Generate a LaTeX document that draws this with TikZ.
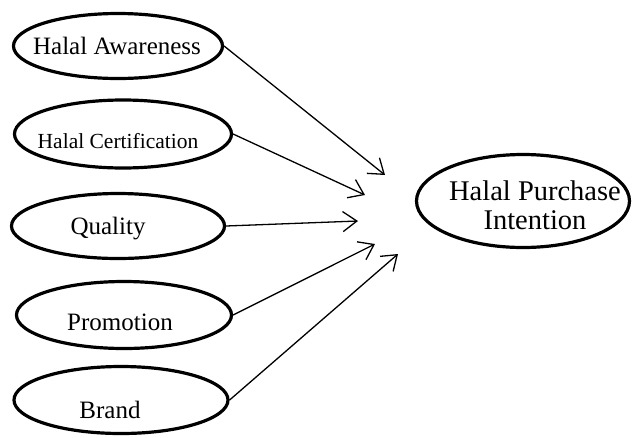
\documentclass[tikz,border=0pt]{standalone}
\usepackage{fontspec}
\setmainfont{Liberation Serif}
\usetikzlibrary{arrows.meta,shapes.geometric}

\begin{document}
\begin{tikzpicture}[x=1pt, y=-1pt,
		    factor/.style 2 args={draw, ellipse, line width=3.2pt, inner sep=0pt,
		        minimum width=#1, minimum height=#2},
		    txt/.style={font=\fontsize{25}{29}\selectfont, inner sep=0pt},
		    link/.style={line width=1.3pt, -{Straight Barb[length=14pt, width=20pt, line width=1.3pt]}}
		]
		\useasboundingbox (0,0) rectangle (637,437);
		\node[factor={209}{65}, label={[txt, xshift=-1pt]center:Halal Awareness}] (Awareness) at (118,46) {};
		\node[factor={217}{68}, label={[txt, font=\fontsize{21.5}{26}\selectfont, xshift=-5pt, yshift=-7pt]center:Halal Certification}] (Certification) at (123,134) {};
		\node[factor={213}{65}, label={[txt, xshift=-10pt, yshift=-3pt]center:Quality}] (Quality) at (118,226) {};
		\node[factor={215}{67}, label={[txt, xshift=-4pt, yshift=-7pt]center:Promotion}] (Promotion) at (124,315) {};
		\node[factor={214}{67}, label={[txt, xshift=-11pt, yshift=-10pt]center:Brand}] (Brand) at (121,400) {};
		\node[factor={213}{93}, label={[txt, font=\fontsize{28.5}{29}\selectfont, align=center, xshift=12pt, yshift=-4pt]center:Halal Purchase\\Intention}] (Intention) at (523,201) {};
		\coordinate (Awareness Tip) at (385,175);
		\coordinate (Certification Tip) at (365,195);
		\coordinate (Quality Tip) at (358,221);
		\coordinate (Promotion Tip) at (375,244);
		\coordinate (Brand Tip) at (398,254);
		\draw[link] (Awareness.east) -- (Awareness Tip);
		\draw[link] (Certification.east) -- (Certification Tip);
		\draw[link] (Quality.east) -- (Quality Tip);
		\draw[link] (Promotion.east) -- (Promotion Tip);
		\draw[link] (Brand.east) -- (Brand Tip);
	\end{tikzpicture}
\end{document}
